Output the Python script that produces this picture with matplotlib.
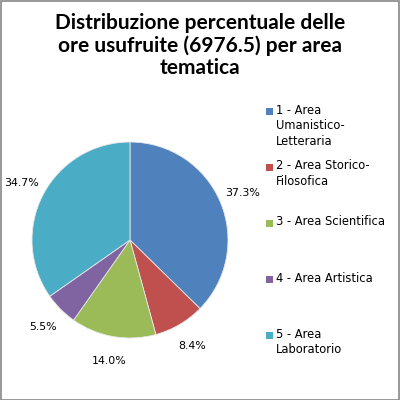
import matplotlib
matplotlib.use("Agg")
import matplotlib.pyplot as plt
import matplotlib.patches as mpatches

# ─── Data ─────────────────────────────────────────────────────────────────────
TITLE = "Distribuzione percentuale delle\nore usufruite (6976.5) per area\ntematica"
CATEGORIES = ["1 - Area\nUmanistico-\nLetteraria",
              "2 - Area Storico-\nFilosofica",
              "3 - Area Scientifica",
              "4 - Area Artistica",
              "5 - Area\nLaboratorio"]
PERCENTS = [37.3, 8.4, 14.0, 5.5, 34.7]

# ─── Style ────────────────────────────────────────────────────────────────────
COLORS = ["#4F81BD", "#C0504D", "#9BBB59", "#8064A2", "#4BACC6"]
LABEL_SIZE = 7.9
LEGEND_SIZE = 8.3
W, H = 400, 400

fig = plt.figure(figsize=(4, 4), dpi=100)
fig.patch.set_facecolor("white")

# outer chart border
fig.patches.append(mpatches.Rectangle((0.5 / W, 0.5 / H), 1 - 1.5 / W, 1 - 1.5 / H,
                                      transform=fig.transFigure, fill=False,
                                      edgecolor="#868686", linewidth=1.2))

# title
fig.text(0.5, 1 - 45.5 / H, TITLE, ha="center", va="center", family="Lato",
         fontweight="bold", fontsize=15, linespacing=1.12)

# ─── Pie ──────────────────────────────────────────────────────────────────────
cx, cy, r = 130, 240, 98
ax = fig.add_axes([(cx - r) / W, (H - cy - r) / H, 2 * r / W, 2 * r / H])
wedges, texts, autotexts = ax.pie(
    PERCENTS, colors=COLORS, startangle=90, counterclock=False, radius=1,
    autopct=lambda p: f"{p:.1f}%", pctdistance=1.25,
    wedgeprops=dict(edgecolor="#e8e8e8", linewidth=0.6),
    textprops=dict(fontsize=LABEL_SIZE, color="black"))
ax.set_xlim(-1, 1)
ax.set_ylim(-1, 1)
ax.set_aspect("equal")
ax.axis("off")

# ─── Legend (manual, Excel-like even spacing) ────────────────────────────────
y0, step = 111, 56
for i, (lab, col) in enumerate(zip(CATEGORIES, COLORS)):
    y = y0 + i * step
    fig.patches.append(mpatches.Rectangle((266 / W, 1 - (y + 3.5) / H), 7 / W, 7 / H,
                                          transform=fig.transFigure,
                                          facecolor=col, edgecolor="none"))
    fig.text(276 / W, 1 - (y - 7.5) / H, lab, ha="left", va="top",
             fontsize=LEGEND_SIZE, linespacing=1.28)

fig.savefig("out.png", dpi=100)
